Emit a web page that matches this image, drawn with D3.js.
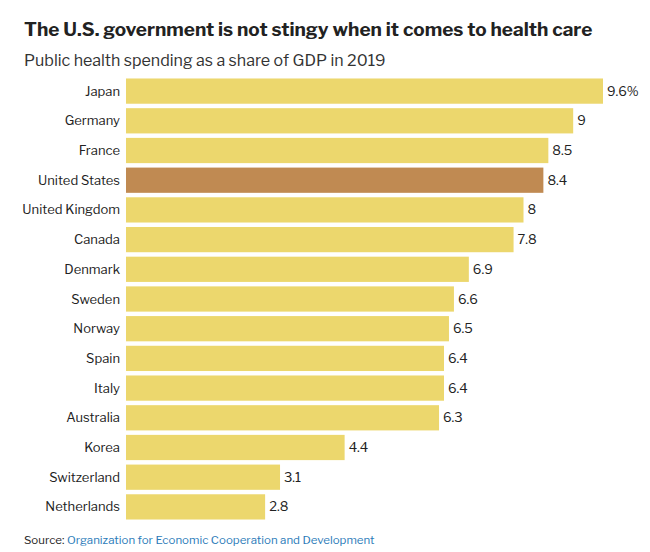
<!DOCTYPE html>
<html><head><meta charset="utf-8">
<script src="https://cdn.jsdelivr.net/npm/d3@7"></script>
<style>body{margin:0;background:#fff;font-family:"Franklin Gothic","Libre Franklin","Roboto",sans-serif}</style>
</head><body><svg width="650" height="552"></svg>
<script>
var countries = ["Japan","Germany","France","United States","United Kingdom","Canada","Denmark","Sweden","Norway","Spain","Italy","Australia","Korea","Switzerland","Netherlands"];
var values = [9.6,9,8.5,8.4,8,7.8,6.9,6.6,6.5,6.4,6.4,6.3,4.4,3.1,2.8];
var highlight = "United States";

var svg = d3.select("svg");
var x = d3.scaleLinear().domain([0, 9.6]).range([126, 603]);
var y = d3.scaleBand().domain(countries).range([77, 521]).paddingInner(0.15).paddingOuter(0.05);

svg.append("text").attr("x", 24).attr("y", 36)
    .style("font-size", "19px").style("font-weight", "bold").attr("fill", "#222")
    .text("The U.S. government is not stingy when it comes to health care");
svg.append("text").attr("x", 24).attr("y", 66)
    .style("font-size", "16px").attr("fill", "#333")
    .text("Public health spending as a share of GDP in 2019");

var rows = svg.selectAll("g.row").data(countries).enter().append("g").attr("class", "row");

rows.append("rect")
    .attr("x", x(0))
    .attr("y", d => y(d))
    .attr("height", y.bandwidth())
    .attr("width", (d, i) => x(values[i]) - x(0))
    .attr("fill", d => d == highlight ? "#c08a52" : "#ecd76d");

rows.append("text")
    .attr("x", 120).attr("y", d => y(d) + y.bandwidth() / 2).attr("dy", "0.35em")
    .attr("text-anchor", "end").style("font-size", "13px").attr("fill", "#222")
    .text(d => d);

rows.append("text")
    .attr("x", (d, i) => x(values[i]) + 4).attr("y", d => y(d) + y.bandwidth() / 2).attr("dy", "0.35em")
    .style("font-size", "13px").attr("fill", "#222")
    .text((d, i) => i == 0 ? values[i] + "%" : values[i]);

var src = svg.append("text").attr("x", 24).attr("y", 544).style("font-size", "11.5px").attr("fill", "#222");
src.append("tspan").text("Source: ");
src.append("tspan").attr("fill", "#2b7bb9").text("Organization for Economic Cooperation and Development");
</script></body></html>
